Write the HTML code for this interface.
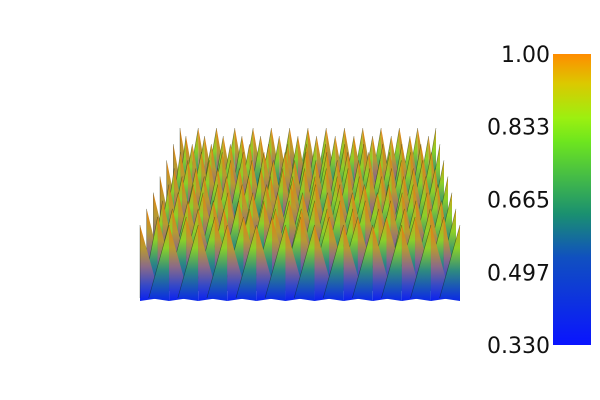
<!DOCTYPE html>
<html><head><meta charset="utf-8"><style>
html,body{margin:0;padding:0;background:#fff;width:600px;height:400px;overflow:hidden}
svg{display:block}
text{font-family:"DejaVu Sans","Liberation Sans",sans-serif;font-size:22px;fill:#111}
</style></head><body>
<svg id="chart" width="600" height="400" viewBox="0 0 600 400">
<defs>
<linearGradient id="cbar" x1="0" y1="1" x2="0" y2="0">
<stop offset="0" stop-color="#0a14ff"/><stop offset="0.3" stop-color="#1050c0"/>
<stop offset="0.45" stop-color="#1a9070"/><stop offset="0.7" stop-color="#6ee61e"/>
<stop offset="0.78" stop-color="#9cf010"/><stop offset="0.9" stop-color="#dcc800"/>
<stop offset="1" stop-color="#ff8c00"/></linearGradient>
<linearGradient id="spike" x1="0" y1="0" x2="0" y2="1">
<stop offset="0" stop-color="#e8800c"/><stop offset="0.3" stop-color="#b89a30"/>
<stop offset="0.55" stop-color="#8a6a88"/><stop offset="0.8" stop-color="#3448c8"/>
<stop offset="1" stop-color="#0a20f0"/></linearGradient>
<linearGradient id="spikeL" x1="0" y1="0" x2="0" y2="1">
<stop offset="0" stop-color="#d89a18"/><stop offset="0.3" stop-color="#8cd028"/>
<stop offset="0.6" stop-color="#2e8a80"/><stop offset="1" stop-color="#0a28e8"/></linearGradient>
</defs>
<g id="surface"></g>
<rect x="553" y="54" width="38" height="291" fill="url(#cbar)"/>
<g id="ticks"></g>
</svg>
<script>
const tickLabels=["1.00","0.833","0.665","0.497","0.330"];
const tickValues=[1.0,0.833,0.665,0.497,0.330];
const rowCount=13;
const colsBack=14;
const colsFront=11;
const peakValue=[1.0,1.0,1.0,1.0,1.0,1.0,1.0,1.0,1.0,1.0,1.0,1.0,1.0];
const minValue=0.33;
const NS="http://www.w3.org/2000/svg";
const vy=v=>54+(1-(v-0.33)/(1-0.33))*291;
const tg=document.getElementById('ticks');
tickLabels.forEach((l,i)=>{const t=document.createElementNS(NS,'text');
t.setAttribute('x',550);t.setAttribute('y',vy(tickValues[i])+8);t.setAttribute('text-anchor','end');
t.textContent=l;


tg.appendChild(t);});
const sg=document.getElementById('surface');
for(let r=0;r<rowCount;r++){
  const t=r/(rowCount-1);
  const left=180-40*t,right=436+24*t;
  const n=Math.round(colsBack+(colsFront-colsBack)*t);
  const w=(right-left)/n;
  const fullH=73;
  const baseY=128+97*t+fullH;
  const h=(peakValue[r]-minValue)/(1-minValue)*fullH;
  const tipY=baseY-h;
  const off=(r%2)?w/2:0;
  for(let c=0;c<=n;c++){
    const cx=left+off+c*w;
    if(cx<left-1||cx>right+1)continue;
    const x0=Math.max(left,cx-w*0.7),x1=Math.min(right,cx+w*0.7);
    const p=document.createElementNS(NS,'polygon');
    p.setAttribute('points',`${x0},${baseY} ${cx},${tipY} ${cx},${baseY+3}`);
    p.setAttribute('fill','url(#spikeL)');
    
    
    sg.appendChild(p);
    const q=document.createElementNS(NS,'polygon');
    q.setAttribute('points',`${cx},${tipY} ${x1},${baseY} ${cx},${baseY+3}`);
    q.setAttribute('fill','url(#spike)');
    
    
    sg.appendChild(q);
    const e=document.createElementNS(NS,'line');
    e.setAttribute('x1',cx);e.setAttribute('y1',tipY);e.setAttribute('x2',x0);e.setAttribute('y2',baseY);
    e.setAttribute('stroke','#0a200a');e.setAttribute('stroke-width','0.6');e.setAttribute('opacity','0.5');
    
    
    sg.appendChild(e);
  }
}
</script>
</body></html>
